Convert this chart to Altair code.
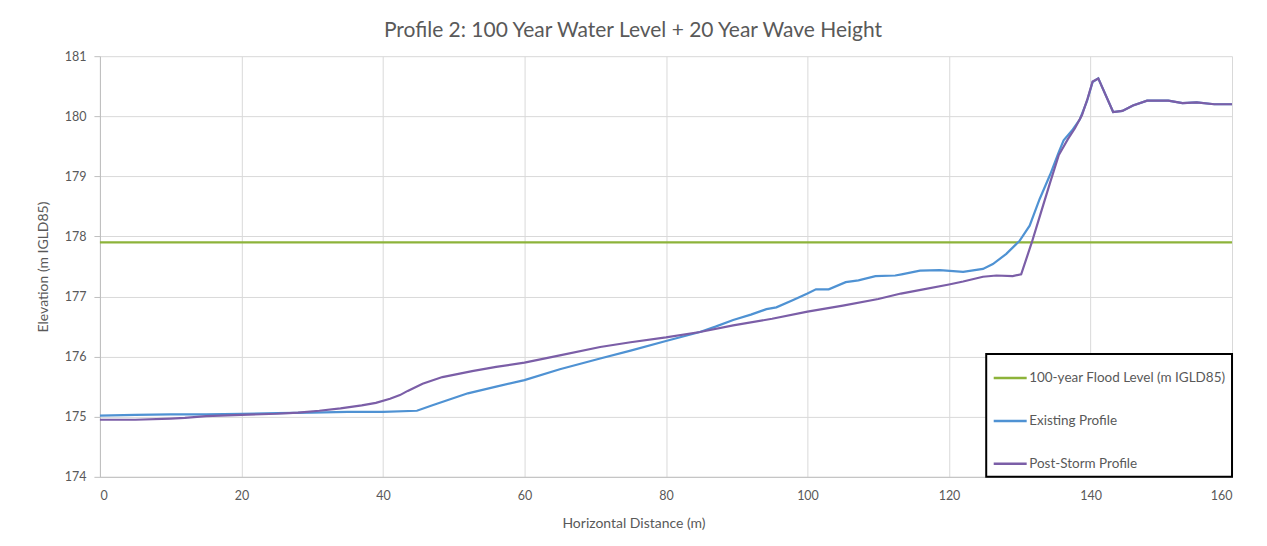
import altair as alt
import pandas as pd

# ---- data ----
existing_x = [0, 5, 10, 15, 20, 25, 30, 35, 40, 44.8, 47, 52, 56, 60, 65, 70.7, 75, 80,
              84.8, 87, 89.5, 92, 94.2, 95.6, 97.9, 100, 101.2, 103, 105.4, 107.2, 109.6,
              112.4, 113.3, 115.9, 118.7, 122, 124.8, 126.2, 128.1, 130, 131.4, 132.8, 134.3,
              135.5, 136.2, 137.5, 138.5, 139.5, 140.3, 141.1, 143.2, 144.5, 146, 148, 151,
              153, 155, 157.5, 160]
existing_y = [175.02, 175.03, 175.04, 175.04, 175.05, 175.06, 175.07, 175.08, 175.08, 175.10,
              175.19, 175.39, 175.50, 175.61, 175.79, 175.97, 176.10, 176.26,
              176.41, 176.50, 176.61, 176.70, 176.79, 176.82, 176.94, 177.05, 177.12, 177.12,
              177.24, 177.27, 177.34, 177.35, 177.37, 177.43, 177.44, 177.41, 177.46, 177.54,
              177.71, 177.93, 178.18, 178.62, 179.03, 179.40, 179.60, 179.78, 179.95, 180.25,
              180.57, 180.63, 180.07, 180.09, 180.18, 180.26, 180.26, 180.22, 180.23, 180.20,
              180.20]

post_x = [0, 5, 10, 12, 15, 20, 25, 28, 31, 34, 37, 39, 41, 42.4, 43.5, 45.6, 48.4, 52.6,
          56, 60, 65, 70.7, 75, 80, 84.8, 89.5, 95, 100, 105, 110, 113.2, 116, 120, 122,
          124.8, 126.7, 129, 130.2, 131.7, 133, 134.3, 135.5, 136.8, 137.8, 138.8, 139.6,
          140.3, 141.1, 143.2, 144.5, 146, 148, 151, 153, 155, 157.5, 160]
post_y = [174.95, 174.95, 174.97, 174.98, 175.01, 175.03, 175.05, 175.07, 175.10, 175.14,
          175.19, 175.23, 175.30, 175.36, 175.43, 175.55, 175.66, 175.76,
          175.83, 175.90, 176.02, 176.16, 176.24, 176.32, 176.41, 176.52, 176.63, 176.75,
          176.85, 176.96, 177.05, 177.11, 177.20, 177.25,
          177.33, 177.35, 177.34, 177.37, 177.90, 178.40, 178.90, 179.35, 179.62, 179.80,
          180.02, 180.30, 180.58, 180.63, 180.07, 180.09, 180.18, 180.26, 180.26, 180.22,
          180.23, 180.20, 180.20]

flood_x = [0, 160]
flood_y = [177.9, 177.9]

series_names = ["100-year Flood Level (m IGLD85)", "Existing Profile", "Post-Storm Profile"]
series_colors = ["#8DB33A", "#4F92D3", "#7B5EA7"]

x_ticks = [0, 20, 40, 60, 80, 100, 120, 140, 160]
y_ticks = [174, 175, 176, 177, 178, 179, 180, 181]

frames = []
for name, xs, ys in zip(series_names, [flood_x, existing_x, post_x], [flood_y, existing_y, post_y]):
    frames.append(pd.DataFrame({"x": xs, "y": ys, "series": name, "idx": list(range(len(xs)))}))
df = pd.concat(frames, ignore_index=True)

FONT = "Lato"
GRAY = "#595959"

x_enc = alt.X("x:Q",
              scale=alt.Scale(domain=[0, 160], nice=False),
              axis=alt.Axis(values=x_ticks, title="Horizontal Distance (m)",
                            tickSize=0, labelPadding=13, titlePadding=14, titleX=534,
                            domainColor="#BFBFBF", gridColor="#D9D9D9",
                            labelColor=GRAY, titleColor=GRAY,
                            labelFont=FONT, titleFont=FONT,
                            labelFontSize=12.5, titleFontSize=14, titleFontWeight="normal"))
y_enc = alt.Y("y:Q",
              scale=alt.Scale(domain=[174, 181], nice=False, zero=False),
              axis=alt.Axis(values=y_ticks, title="Elevation (m IGLD85)",
                            tickSize=6, tickColor="#BFBFBF", labelPadding=8, titlePadding=14,
                            domainColor="#BFBFBF", gridColor="#D9D9D9",
                            labelColor=GRAY, titleColor=GRAY,
                            labelFont=FONT, titleFont=FONT,
                            labelFontSize=12.5, titleFontSize=14, titleFontWeight="normal"))
color_enc = alt.Color("series:N",
                      scale=alt.Scale(domain=series_names, range=series_colors),
                      legend=alt.Legend(title=None, orient="none", legendX=887, legendY=298,
                                        symbolType="stroke", symbolStrokeWidth=2.5,
                                        symbolSize=1089, rowPadding=18, labelOffset=1,
                                        padding=6, strokeColor="#000000", fillColor="#FFFFFF",
                                        labelFont=FONT, labelFontSize=13.5, labelColor=GRAY,
                                        labelLimit=400))

layers = []
for name in series_names:
    layers.append(
        alt.Chart(df)
        .transform_filter(alt.datum.series == name)
        .mark_line(strokeWidth=2.2)
        .encode(x=x_enc, y=y_enc, color=color_enc, order="idx:Q")
    )

chart = (
    alt.layer(*layers)
    .properties(
        width=1133, height=421,
        title=alt.TitleParams("Profile 2: 100 Year Water Level + 20 Year Wave Height",
                              font=FONT, fontSize=21, fontWeight="normal", color=GRAY,
                              anchor="middle", offset=9, dx=-33),
        autosize=alt.AutoSizeParams(type="none"),
        padding={"left": 92, "top": 48, "right": 27, "bottom": 61},
    )
    .configure_view(strokeWidth=0)
    .configure_legend(strokeWidth=2)
)

chart.save("out.html", embed_options={"renderer": "svg", "actions": False})
